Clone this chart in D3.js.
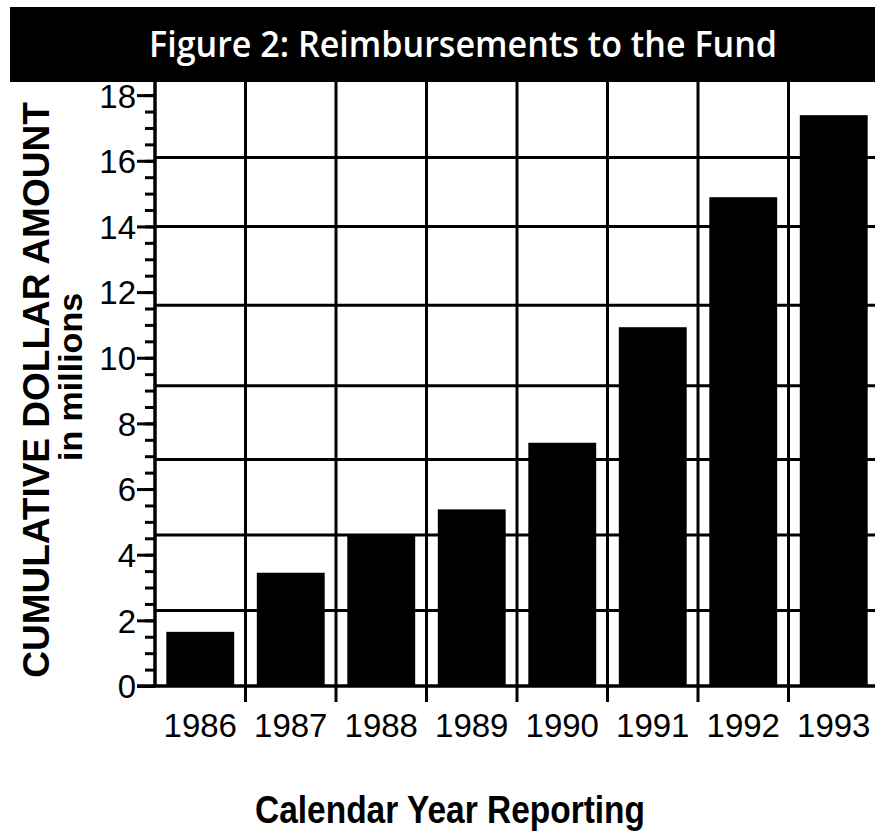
<!DOCTYPE html>
<html>
<head>
<meta charset="utf-8">
<script src="https://cdn.jsdelivr.net/npm/d3@7/dist/d3.min.js"></script>
<style>
  html, body { margin: 0; padding: 0; background: #fff; }
  svg { display: block; }
</style>
</head>
<body>
<svg id="chart" width="875" height="833"></svg>
<script>
// Cumulative reimbursements, millions of dollars, by calendar year
const years = ["1986", "1987", "1988", "1989", "1990", "1991", "1992", "1993"];
const amounts = [1.65, 3.45, 4.62, 5.38, 7.41, 10.93, 14.89, 17.39];

// Y-axis labelled ticks and minor ticks
const majorTicks = [0, 2, 4, 6, 8, 10, 12, 14, 16, 18];
const minorTicks = d3.range(0, 18.01, 0.5);

// Horizontal rules of the grid (they split the frame into eight rows)
const gridValues = [2.3, 4.6, 6.9, 9.15, 11.6, 14.0, 16.1];
const yMax = 18.4;

const titleText = "Figure 2: Reimbursements to the Fund";
const yTitle = "CUMULATIVE DOLLAR AMOUNT";
const ySubTitle = "in millions";
const xTitle = "Calendar Year Reporting";

const svg = d3.select("#chart");
const W = 875, H = 833;

const plot = { left: 155, right: 879, top: 82, bottom: 686 };

svg.append("rect").attr("width", W).attr("height", H).attr("fill", "#fff");

const x = d3.scaleBand().domain(years).range([plot.left, plot.right]).padding(0);
const y = d3.scaleLinear().domain([0, yMax]).range([plot.bottom, plot.top]);

const ink = "#000";
const sans = "'Liberation Sans', Arial, Helvetica, sans-serif";

// Horizontal grid rules
svg.append("g").selectAll("line").data(gridValues).join("line")
  .attr("x1", plot.left).attr("x2", W)
  .attr("y1", d => y(d)).attr("y2", d => y(d))
  .attr("stroke", ink).attr("stroke-width", 3);

// Vertical grid rules between years, dropping below the baseline as ticks
svg.append("g").selectAll("line").data(years.slice(1)).join("line")
  .attr("x1", d => x(d)).attr("x2", d => x(d))
  .attr("y1", plot.top).attr("y2", plot.bottom + 16)
  .attr("stroke", ink).attr("stroke-width", 3);

// Bars
const barFrac = 0.75;
svg.append("g").selectAll("rect").data(years).join("rect")
  .attr("x", d => x(d) + x.bandwidth() * (1 - barFrac) / 2)
  .attr("width", x.bandwidth() * barFrac)
  .attr("y", (d, i) => y(amounts[i]))
  .attr("height", (d, i) => y(0) - y(amounts[i]))
  .attr("fill", ink);

// Y axis: minor ticks, then labelled ticks
const yMinor = d3.axisLeft(y).tickValues(minorTicks).tickSize(10).tickFormat("");
svg.append("g").attr("transform", `translate(${plot.left},0)`).call(yMinor)
  .call(g => g.select(".domain").remove())
  .call(g => g.selectAll(".tick line").attr("stroke", ink).attr("stroke-width", 3));

const yMajor = d3.axisLeft(y).tickValues(majorTicks).tickSize(18).tickPadding(1).tickFormat(d3.format("d"));
svg.append("g").attr("transform", `translate(${plot.left},0)`).call(yMajor)
  .call(g => g.select(".domain").remove())
  .call(g => g.selectAll(".tick line").attr("stroke", ink).attr("stroke-width", 3))
  .call(g => g.selectAll(".tick text")
    .attr("fill", ink).attr("font-family", sans).attr("font-size", 33)
    .attr("dy", "0.36em"));

// Axis lines
svg.append("line")
  .attr("x1", plot.left).attr("x2", plot.left)
  .attr("y1", plot.top).attr("y2", plot.bottom)
  .attr("stroke", ink).attr("stroke-width", 3.5);
svg.append("line")
  .attr("x1", plot.left - 18).attr("x2", W)
  .attr("y1", plot.bottom).attr("y2", plot.bottom)
  .attr("stroke", ink).attr("stroke-width", 3.5);

// X axis year labels
const xAxis = d3.axisBottom(x).tickSize(0).tickPadding(0);
svg.append("g").attr("transform", `translate(0,${plot.bottom})`).call(xAxis)
  .call(g => g.select(".domain").remove())
  .call(g => g.selectAll(".tick text")
    .attr("fill", ink).attr("font-family", sans).attr("font-size", 33)
    .attr("y", 51).attr("dy", 0));

// Title banner
svg.append("rect")
  .attr("x", 10).attr("y", 7).attr("width", W - 10).attr("height", 75)
  .attr("fill", ink);
svg.append("text")
  .attr("x", 463).attr("y", 57)
  .attr("text-anchor", "middle")
  .attr("fill", "#fff")
  .attr("font-family", "'Open Sans', 'DejaVu Sans Condensed', sans-serif")
  .attr("font-weight", 600)
  .attr("font-size", 36)
  .attr("textLength", 628).attr("lengthAdjust", "spacingAndGlyphs")
  .text(titleText);

// Y axis titles
svg.append("text")
  .attr("transform", "translate(49,390) rotate(-90)")
  .attr("text-anchor", "middle")
  .attr("fill", ink).attr("font-family", sans).attr("font-weight", "bold")
  .attr("font-size", 37)
  .text(yTitle);
svg.append("text")
  .attr("transform", "translate(82,377) rotate(-90)")
  .attr("text-anchor", "middle")
  .attr("fill", ink).attr("font-family", sans).attr("font-weight", "bold")
  .attr("font-size", 34)
  .text(ySubTitle);

// X axis title
svg.append("text")
  .attr("x", 450).attr("y", 823)
  .attr("text-anchor", "middle")
  .attr("fill", ink).attr("font-family", sans).attr("font-weight", "bold")
  .attr("font-size", 38)
  .attr("textLength", 390).attr("lengthAdjust", "spacingAndGlyphs")
  .text(xTitle);
</script>
</body>
</html>
